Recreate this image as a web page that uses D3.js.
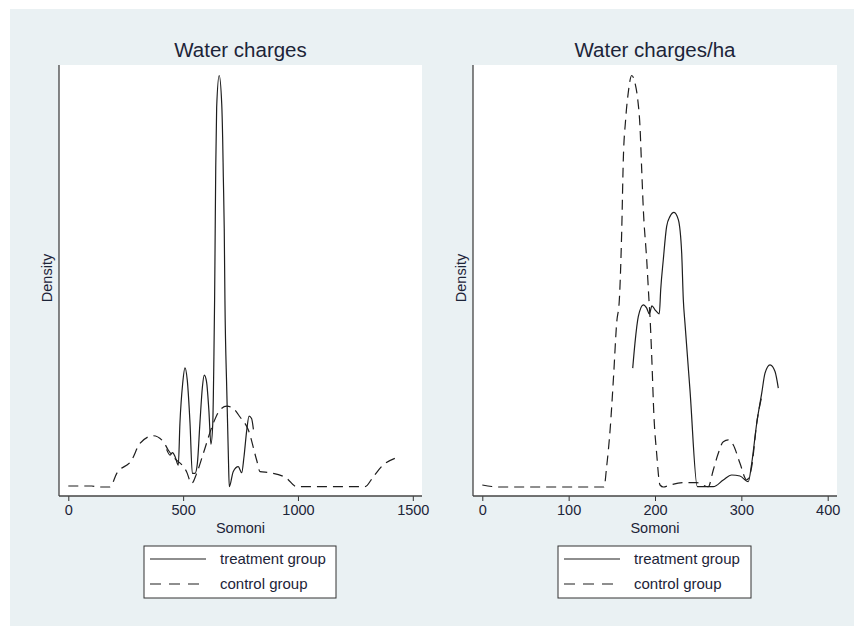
<!DOCTYPE html>
<html>
<head>
<meta charset="utf-8">
<script src="https://cdn.jsdelivr.net/npm/d3@7"></script>
<style>
  html, body { margin: 0; padding: 0; background: #ffffff; }
  svg { display: block; }
  text { font-family: "Liberation Sans", Arial, sans-serif; fill: #1c2438; }
</style>
</head>
<body>
<svg id="chart" width="854" height="626"></svg>
<script>
// ---------------- DATA (density values are x 1000) ----------------
const titles = ["Water charges", "Water charges/ha"];
const xTitle = "Somoni";
const yTitle = "Density";
const seriesNames = ["treatment group", "control group"];

const leftTicks = [0, 500, 1000, 1500];
const rightTicks = [0, 100, 200, 300, 400];

// Panel 1: Water charges
const leftTreatX = [428, 443, 454, 465, 479, 486, 498, 508, 518, 530, 540, 552, 562, 573, 584, 592, 602, 612, 621, 629, 634, 637, 639, 642, 646, 657, 668, 672, 675, 679, 682, 690, 697, 701, 718, 740, 755, 765, 777, 787, 798, 806];
const leftTreatY = [1.13, 0.96, 1.03, 0.91, 0.66, 1.91, 3.11, 3.58, 3.21, 1.91, 0.41, 0.41, 0.71, 1.91, 3.01, 3.36, 3.16, 2.31, 1.29, 1.91, 3.91, 5.61, 7.21, 9.61, 11.41, 12.36, 11.51, 10.51, 9.31, 7.76, 5.61, 2.91, 0.91, 0.01, 0.46, 0.61, 0.43, 0.91, 1.71, 2.13, 2.06, 1.73];
const leftCtrlX = [0, 102, 131, 181, 211, 276, 312, 370, 414, 435, 457, 515, 537, 559, 588, 631, 660, 690, 718, 747, 784, 820, 835, 878, 951, 994, 1292, 1328, 1371, 1422];
const leftCtrlY = [0.03, 0.03, 0, 0, 0.41, 0.81, 1.31, 1.54, 1.36, 1.11, 0.91, 0.46, 0.11, 0.41, 1.01, 1.91, 2.31, 2.43, 2.36, 2.11, 1.71, 0.81, 0.46, 0.43, 0.26, 0.01, 0.01, 0.31, 0.66, 0.86];

// Panel 2: Water charges/ha
const rightTreatX = [174.2, 176.8, 180.7, 186.5, 190.4, 193.4, 196.5, 200, 205, 206.6, 209.6, 213.5, 217.4, 222, 227, 230.9, 232.8, 234.7, 240.5, 249, 267.5, 279.1, 288.8, 298.4, 308, 312, 317.8, 323.6, 327.4, 333.2, 339, 342.8];
const rightTreatY = [11.87, 14.37, 17.03, 18.2, 17.87, 17.3, 18.1, 17.7, 17.3, 19.7, 22.7, 26.03, 27.03, 27.43, 26.7, 23.37, 18.7, 16.37, 9.7, 0.03, 0.03, 0.7, 1.2, 1.1, 0.53, 2.37, 6.37, 9.37, 11.37, 12.2, 11.53, 9.87];
const rightCtrlX = [0, 11, 20, 141, 144, 148, 152, 155.6, 158.7, 161.4, 163.3, 166, 169, 173, 176.8, 180, 182.6, 184.6, 186.5, 190.4, 193, 194.2, 196.2, 198.8, 201.9, 205.8, 209.6, 217.4, 232.8, 248.3, 261.7, 267.5, 273.3, 279.1, 284.9, 290.7, 298.4, 306.2, 312, 317.8, 323.6];
const rightCtrlY = [0.2, 0.05, 0, 0, 2.03, 5.7, 11.03, 16.37, 18.7, 25.37, 32.7, 36.7, 39.37, 41.1, 40.37, 38.7, 36.03, 31.7, 27.7, 22.7, 18.7, 17.03, 13.03, 7.03, 3.37, 0.2, 0, 0.2, 0.43, 0.43, 0.03, 1.7, 3.37, 4.53, 4.7, 4.2, 2.37, 0.7, 2.03, 6.37, 9.03];

// ---------------- DRAWING ----------------
(function () {
const svg = d3.select("#chart");
const bg = "#eaf1f3";
const lineCol = "#1e1e1e";

svg.append("rect").attr("x", 10).attr("y", 9).attr("width", 844).attr("height", 617).attr("fill", bg);

const panels = [
  { title: titles[0], left: 59, right: 422, xDomain: [0, 1500], xRange: [68.3, 412.8], ticks: leftTicks,
    treat: { x: leftTreatX, y: leftTreatY }, ctrl: { x: leftCtrlX, y: leftCtrlY }, legendX: 144, legendW: 192 },
  { title: titles[1], left: 473, right: 837, xDomain: [0, 400], xRange: [482.3, 827.7], ticks: rightTicks,
    treat: { x: rightTreatX, y: rightTreatY }, ctrl: { x: rightCtrlX, y: rightCtrlY }, legendX: 558, legendW: 193 }
];

const plotTop = 65, plotBottom = 496;
const yBase = 487, yPeak = 75.5;

panels.forEach(p => {
  const g = svg.append("g");
  g.append("rect").attr("x", p.left).attr("y", plotTop).attr("width", p.right - p.left).attr("height", plotBottom - plotTop).attr("fill", "#ffffff");

  const x = d3.scaleLinear().domain(p.xDomain).range(p.xRange);
  const ymax = d3.max([...p.treat.y, ...p.ctrl.y]);
  const y = d3.scaleLinear().domain([0, ymax]).range([yBase, yPeak]);

  const line = d3.line().x(d => x(d[0])).y(d => y(d[1])).curve(d3.curveMonotoneX);

  const ctrlPts = p.ctrl.x.map((v, i) => [v, p.ctrl.y[i]]);
  const treatPts = p.treat.x.map((v, i) => [v, p.treat.y[i]]);

  g.append("path").attr("d", line(ctrlPts)).attr("fill", "none").attr("stroke", lineCol)
    .attr("stroke-width", 1.2).attr("stroke-dasharray", "10,6");
  g.append("path").attr("d", line(treatPts)).attr("fill", "none").attr("stroke", lineCol)
    .attr("stroke-width", 1.2);

  // x axis
  const ax = g.append("g").attr("transform", `translate(0,${plotBottom})`)
    .call(d3.axisBottom(x).tickValues(p.ticks).tickSize(5).tickPadding(4).tickFormat(d3.format("d")));
  ax.select(".domain").remove();
  ax.selectAll(".tick line").attr("stroke", "#333").attr("stroke-width", 1);
  ax.selectAll(".tick text").attr("font-size", 14.5).attr("fill", "#1c2438")
    .attr("font-family", '"Liberation Sans", Arial, sans-serif');
  g.append("line").attr("x1", p.left).attr("x2", p.right).attr("y1", plotBottom).attr("y2", plotBottom)
    .attr("stroke", "#444").attr("stroke-width", 1.3);
  // y axis line (no ticks)
  g.append("line").attr("x1", p.left).attr("x2", p.left).attr("y1", plotTop).attr("y2", plotBottom)
    .attr("stroke", "#444").attr("stroke-width", 1.3);

  const cx = (p.left + p.right) / 2;
  g.append("text").attr("x", cx).attr("y", 57).attr("text-anchor", "middle").attr("font-size", 20.5).text(p.title);
  g.append("text").attr("x", cx).attr("y", 533).attr("text-anchor", "middle").attr("font-size", 14.5).text(xTitle);
  g.append("text").attr("transform", `translate(${p.left - 7},278) rotate(-90)`).attr("text-anchor", "middle")
    .attr("font-size", 14.5).text(yTitle);

  // legend
  const lg = g.append("g");
  lg.append("rect").attr("x", p.legendX).attr("y", 546).attr("width", p.legendW).attr("height", 52)
    .attr("fill", "#ffffff").attr("stroke", "#333").attr("stroke-width", 1);
  const ly = [559, 584];
  seriesNames.forEach((name, i) => {
    lg.append("line").attr("x1", p.legendX + 6).attr("x2", p.legendX + 62).attr("y1", ly[i]).attr("y2", ly[i])
      .attr("stroke", lineCol).attr("stroke-width", 1.2).attr("stroke-dasharray", i === 1 ? "11,8" : null);
    lg.append("text").attr("x", p.legendX + 76).attr("y", ly[i]).attr("dy", "0.35em").attr("font-size", 15).text(name);
  });
});
})();
</script>
</body>
</html>
